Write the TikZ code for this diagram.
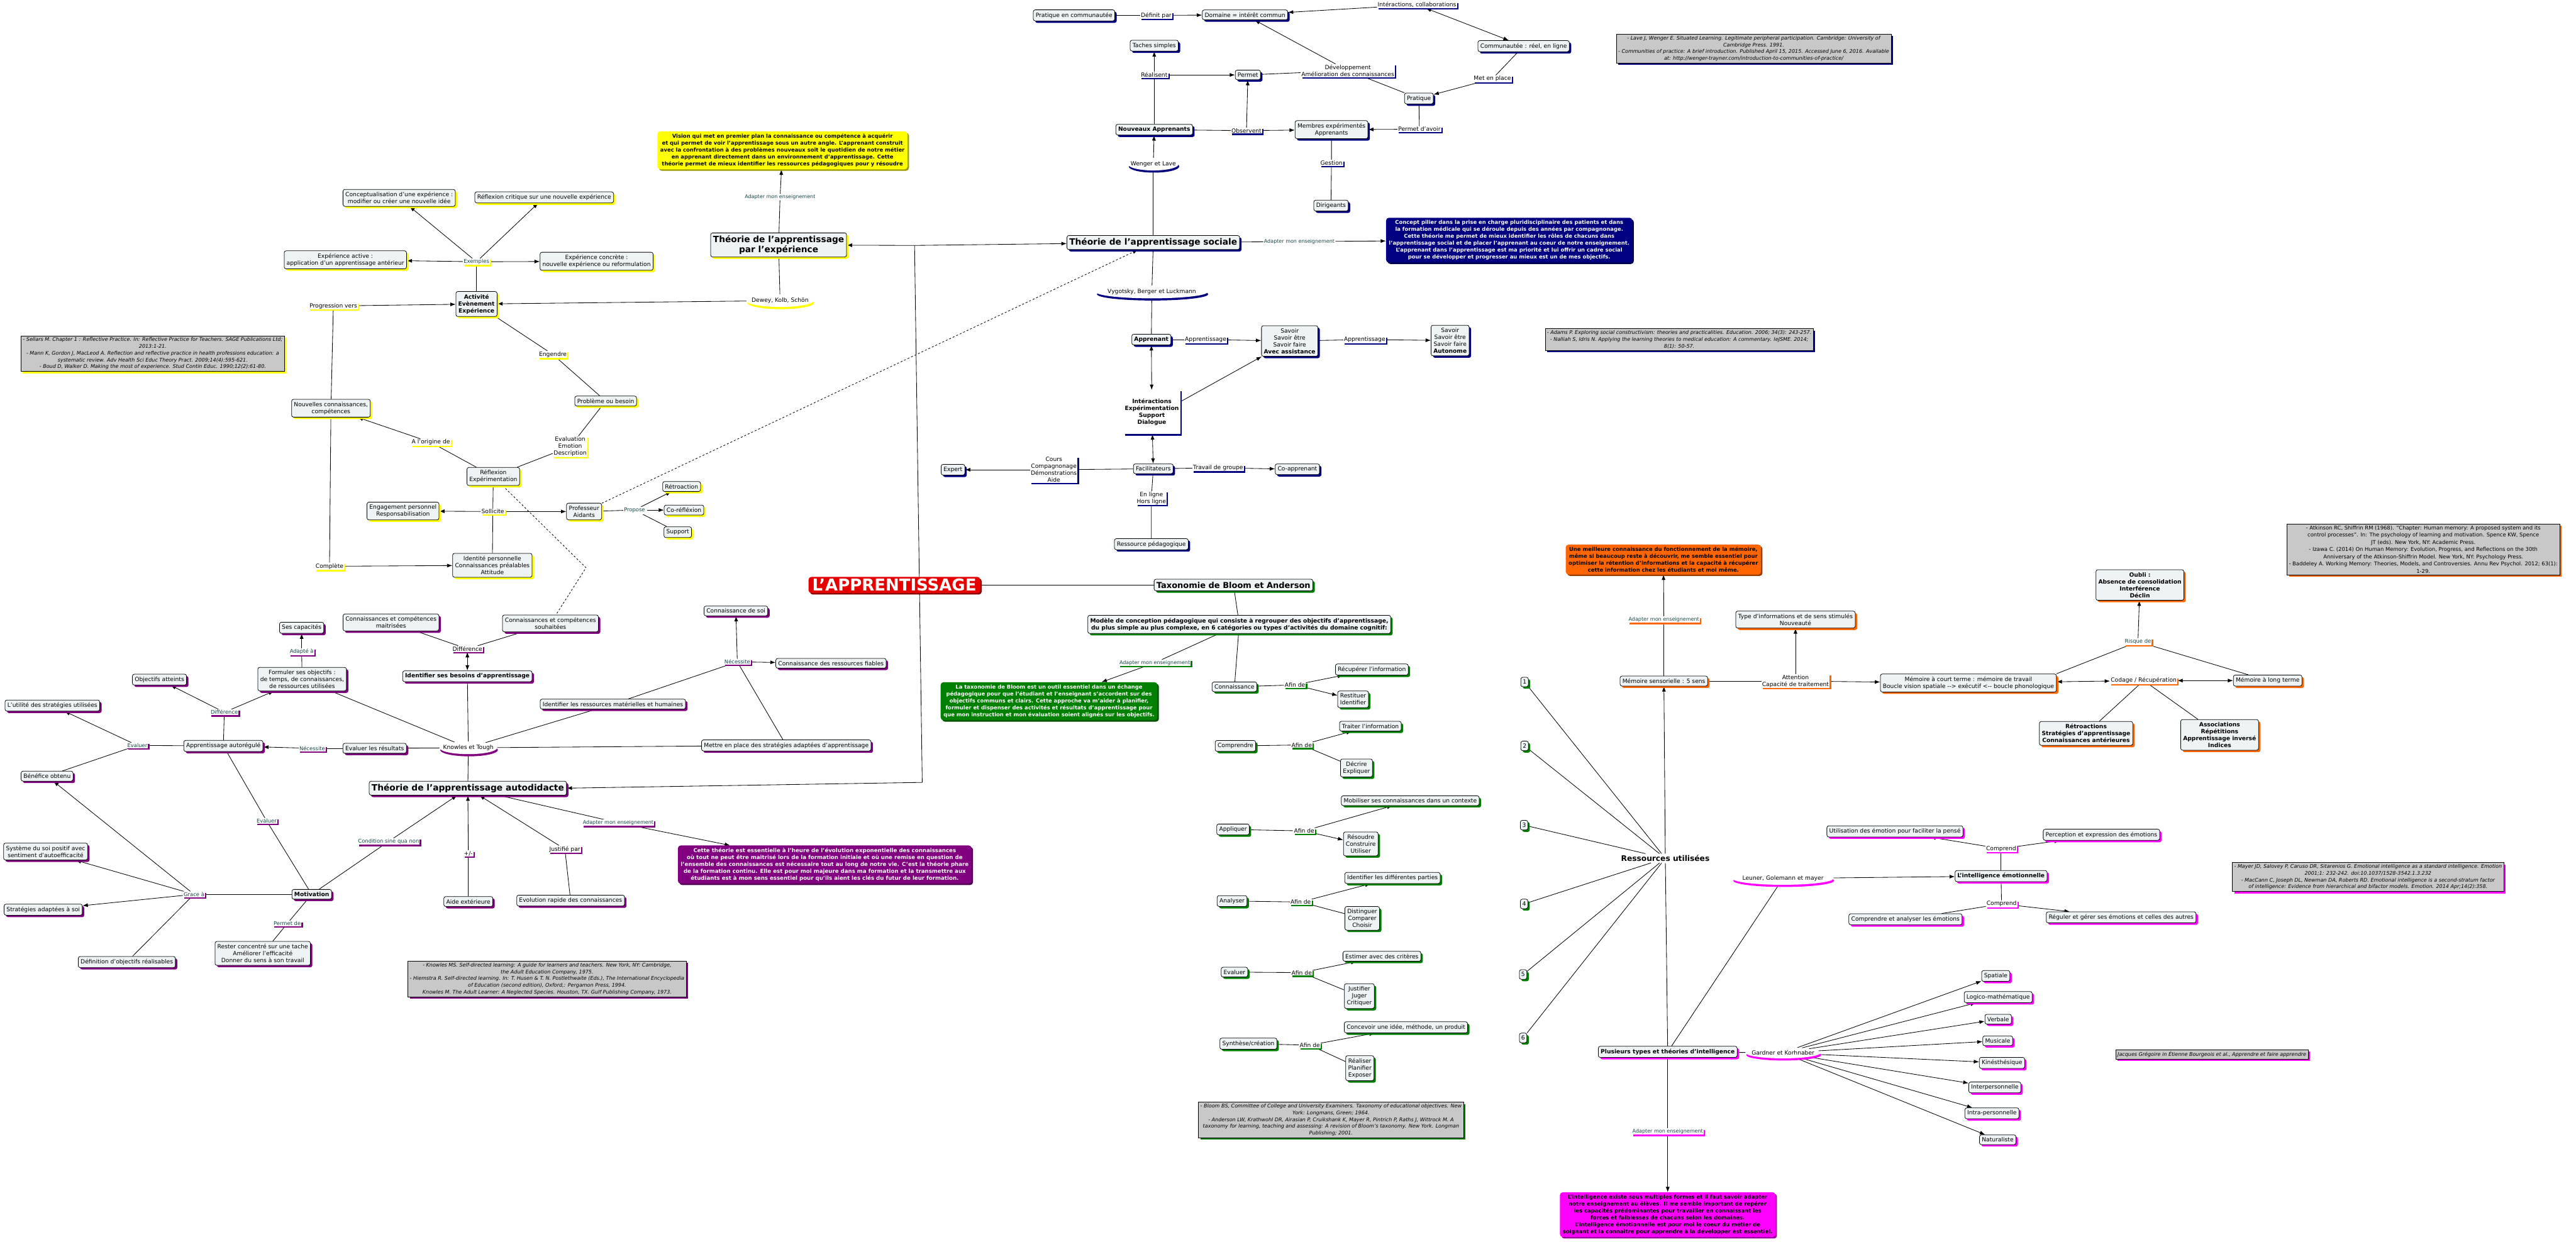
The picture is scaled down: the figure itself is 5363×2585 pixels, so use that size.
\documentclass[tikz,border=0pt]{standalone}
\usepackage{fontspec}
\setmainfont{DejaVu Sans}
\usetikzlibrary{shapes.geometric,arrows.meta,shadows,backgrounds}
\definecolor{navyc}{RGB}{0,0,128}
\definecolor{yelc}{RGB}{255,255,0}
\definecolor{purc}{RGB}{128,0,128}
\definecolor{grnc}{RGB}{0,128,0}
\definecolor{orgc}{RGB}{255,102,0}
\definecolor{magc}{RGB}{255,0,255}
\definecolor{nfill}{RGB}{238,243,246}
\definecolor{refg}{RGB}{200,200,200}
\definecolor{teal2}{RGB}{20,70,70}
\definecolor{redc}{RGB}{230,0,0}
\tikzset{
  concept/.style={draw=black, line width=1pt, rounded corners=4pt, fill=nfill,
     align=center, inner xsep=5pt, inner ysep=5.5pt, font=\fontsize{12}{14.5}\selectfont,
     drop shadow={shadow xshift=4pt, shadow yshift=-4pt, fill=#1, opacity=1}},
  linklab/.style={fill=white, align=center, inner xsep=1.5pt, inner ysep=1.5pt,
     font=\fontsize{12}{14.5}\selectfont,
     drop shadow={shadow xshift=3pt, shadow yshift=-3pt, fill=#1, opacity=1}},
  plainlab/.style={fill=white, align=center, inner sep=1.5pt, font=\fontsize{10.5}{13}\selectfont, text=teal2},
  arclab/.style={ellipse, fill=white, inner xsep=-10pt, inner ysep=3.5pt, font=\fontsize{12}{14.5}\selectfont,
     drop shadow={shadow xshift=1.5pt, shadow yshift=-4.5pt, fill=#1, opacity=1}},
  bigbox/.style={rounded corners=6pt, align=center, inner xsep=6pt, inner ysep=5pt,
     font=\bfseries\fontsize{11}{14.5}\selectfont, fill=#1,
     drop shadow={shadow xshift=3pt, shadow yshift=-3pt, fill=#1!60!black, opacity=1}},
  refbox/.style={draw=black, line width=0.8pt, fill=refg, align=center, inner sep=4pt,
     font=\itshape\fontsize{10.5}{14}\selectfont,
     drop shadow={shadow xshift=4pt, shadow yshift=-4pt, fill=#1, opacity=1}},
  tl/.style={text=teal2, font=\fontsize{11}{13}\selectfont},
  tladapt/.style={text=teal2, font=\fontsize{10.5}{13}\selectfont},
  bf/.style={font=\bfseries\fontsize{12}{14.5}\selectfont},
  ttl/.style={font=\bfseries\fontsize{18}{21}\selectfont},
  conn/.style={line width=1.1pt},
  arr/.style={line width=1.1pt, -{Latex[length=11pt,width=8pt]}},
  darr/.style={line width=1.1pt, {Latex[length=11pt,width=8pt]}-{Latex[length=11pt,width=8pt]}},
  dsh/.style={line width=1.1pt, dash pattern=on 4pt off 4pt},
}
\begin{document}
\begin{tikzpicture}[x=1pt,y=-1pt]
\useasboundingbox (0,0) rectangle (5363,2585);

% ================= SOCIAL =================
\node[concept=navyc] (pcomm) at (2236,32) {Pratique en communautée};
\node[linklab=navyc] (definit) at (2407,32) {Définit par};
\node[concept=navyc] (domaine) at (2592,31) {Domaine = intérêt commun};
\node[linklab=navyc] (interac) at (2950,10) {Intéractions, collaborations};
\node[concept=navyc] (communaute) at (3172,96) {Communautée : réel, en ligne};
\node[linklab=navyc] (metplace) at (3107,164) {Met en place};
\node[concept=navyc] (pratique) at (2954,205) {Pratique};
\node[linklab=navyc] (devel) at (2806,147) {Développement\\Amélioration des connaissances};
\node[concept=navyc] (permet) at (2598,156) {Permet};
\node[concept=navyc] (taches) at (2403,95) {Taches simples};
\node[linklab=navyc] (realisent) at (2403,156) {Réalisent};
\node[concept=navyc, bf] (nouveaux) at (2403,270) {Nouveaux Apprenants};
\node[linklab=navyc] (observent) at (2595,272) {Observent};
\node[concept=navyc] (membres) at (2772,270) {Membres expérimentés\\Apprenants};
\node[linklab=navyc] (permetavoir) at (2955,269) {Permet d'avoir};
\node[linklab=navyc] (gestion) at (2772,339) {Gestion};
\node[concept=navyc] (dirigeants) at (2771,428) {Dirigeants};
\node[arclab=navyc] (wenger) at (2401,342) {Wenger et Lave};
\node[concept=navyc, ttl] (tsociale) at (2401,505) {Théorie de l'apprentissage sociale};
\node[plainlab] (adsoc) at (2705,503) {Adapter mon enseignement};
\node[bigbox=navyc, text=white] (bluebox) at (3142,500) {Concept pilier dans la prise en charge pluridisciplinaire des patients et dans\\la formation médicale qui se déroule depuis des années par compagnonage.\\Cette théorie me permet de mieux identifier les rôles de chacuns dans\\l'apprentissage social et de placer l'apprenant au coeur de notre enseignement.\\L'apprenant dans l'apprentissage est ma priorité et lui offrir un cadre social\\pour se développer et progresser au mieux est un de mes objectifs.};
\node[refbox=navyc] (laveref) at (3651,101) {- Lave J, Wenger E. Situated Learning. Legitimate peripheral participation. Cambridge: University of\\Cambridge Press. 1991.\\- Communities of practice: A brief introduction. Published April 15, 2015. Accessed June 6, 2016. Available\\at: http://wenger-trayner.com/introduction-to-communities-of-practice/};
\node[arclab=navyc] (vygotsky) at (2398,608) {Vygotsky, Berger et Luckmann};
\node[concept=navyc, bf] (apprenant) at (2397,707) {Apprenant};
\node[linklab=navyc] (appr1) at (2510,707) {Apprentissage};
\node[concept=navyc] (savoir1) at (2685,710) {Savoir\\Savoir être\\Savoir faire\\\textbf{Avec assistance}};
\node[linklab=navyc] (appr2) at (2841,707) {Apprentissage};
\node[concept=navyc] (savoir2) at (3019,709) {Savoir\\Savoir être\\Savoir faire\\\textbf{Autonome}};
\node[refbox=navyc] (adamsref) at (3496,707) {- Adams P. Exploring social constructivism: theories and practicalities. Education. 2006; 34(3): 243-257.\\- Nalliah S, Idris N. Applying the learning theories to medical education: A commentary. IeJSME. 2014;\\8(1): 50-57.};
\node[linklab=navyc, bf, minimum width=118pt, minimum height=92pt] (interactions) at (2398,858) {Intéractions\\Expérimentation\\Support\\Dialogue};
\node[concept=navyc] (facilit) at (2401,976) {Facilitateurs};
\node[linklab=navyc] (travail) at (2536,974) {Travail de groupe};
\node[concept=navyc] (coappr) at (2701,977) {Co-apprenant};
\node[linklab=navyc] (cours) at (2194,978) {Cours\\Compagnonage\\Démonstrations\\Aide};
\node[concept=navyc] (expert) at (1984,978) {Expert};
\node[linklab=navyc] (enligne) at (2397,1037) {En ligne\\Hors ligne};
\node[concept=navyc] (ressped) at (2397,1133) {Ressource pédagogique};

% ================= EXPERIENCE =================
\node[bigbox=yelc, text=black] (yellowbox) at (1629,313) {Vision qui met en premier plan la connaissance ou compétence à acquérir\\et qui permet de voir l'apprentissage sous un autre angle. L'apprenant construit\\avec la confrontation à des problèmes nouveaux soit le quotidien de notre métier\\en apprenant directement dans un environnement d'apprentissage. Cette\\théorie permet de mieux identifier les ressources pédagogiques pour y résoudre};
\node[concept=yelc, ttl] (texp) at (1621,510) {Théorie de l'apprentissage\\par l'expérience};
\node[plainlab] (adexp) at (1624,410) {Adapter mon enseignement};
\node[concept=yelc] (concep) at (831,412) {Conceptualisation d'une expérience :\\modifier ou créer une nouvelle idée};
\node[concept=yelc] (reflcrit) at (1133,411) {Réflexion critique sur une nouvelle expérience};
\node[concept=yelc] (expactive) at (719,541) {Expérience active :\\application d'un apprentissage antérieur};
\node[linklab=yelc, tl] (exemples) at (992,545) {Exemples};
\node[concept=yelc] (expconc) at (1242,544) {Expérience concrète :\\nouvelle expérience ou reformulation};
\node[concept=yelc, bf] (activite) at (992,633) {Activité\\Evènement\\Expérience};
\node[linklab=yelc] (progression) at (694,637) {Progression vers};
\node[arclab=yelc] (dewey) at (1624,626) {Dewey, Kolb, Schön};
\node[refbox=yelc] (sellarsref) at (318,736) {- Sellars M. Chapter 1 : Reflective Practice. In: Reflective Practice for Teachers. SAGE Publications Ltd;\\2013:1-21.\\- Mann K, Gordon J, MacLeod A. Reflection and reflective practice in health professions education: a\\systematic review. Adv Health Sci Educ Theory Pract. 2009;14(4):595-621.\\- Boud D, Walker D. Making the most of experience. Stud Contin Educ. 1990;12(2):61-80.};
\node[concept=yelc] (nouvelles) at (689,850) {Nouvelles connaissances,\\compétences};
\node[linklab=yelc] (engendre) at (1151,738) {Engendre};
\node[concept=yelc] (probleme) at (1261,835) {Problème ou besoin};
\node[linklab=yelc] (evaluation) at (1187,930) {Evaluation\\Emotion\\Description};
\node[linklab=yelc] (origine) at (897,921) {A l'origine de};
\node[concept=yelc] (reflexion) at (1027,992) {Réflexion\\Expérimentation};
\node[linklab=yelc] (sollicite) at (1026,1065) {Sollicite};
\node[concept=yelc] (engagement) at (839,1064) {Engagement personnel\\Responsabilisation};
\node[concept=yelc] (professeur) at (1216,1065) {Professeur\\Aidants};
\node[linklab=white, tl] (propose) at (1321,1062) {Propose};
\node[concept=yelc] (retro) at (1419,1013) {Rétroaction};
\node[concept=yelc] (coreflex) at (1424,1062) {Co-réfléxion};
\node[concept=yelc] (support) at (1411,1108) {Support};
\node[linklab=yelc] (complete) at (686,1179) {Complète};
\node[concept=yelc] (identite) at (1025,1177) {Identité personnelle\\Connaissances préalables\\Attitude};

% ================= AUTODIDACTE =================
\node[concept=purc] (capacites) at (628,1307) {Ses capacités};
\node[concept=purc] (maitrisees) at (814,1296) {Connaissances et compétences\\maitrisées};
\node[concept=purc] (souhaitees) at (1146,1298) {Connaissances et compétences\\souhaitées};
\node[linklab=purc, tl] (adapte) at (628,1357) {Adapté à};
\node[linklab=purc] (diff1) at (973,1351) {Différence};
\node[concept=purc] (formuler) at (629,1414) {Formuler ses objectifs :\\de temps, de connaissances,\\de ressources utilisées};
\node[concept=purc, bf] (besoins) at (973,1408) {Identifier ses besoins d'apprentissage};
\node[concept=purc] (objatteints) at (332,1415) {Objectifs atteints};
\node[concept=purc] (utilite) at (109,1469) {L'utilité des stratégies utilisées};
\node[linklab=purc, tl] (diff2) at (467,1483) {Différence};
\node[linklab=purc, tl] (evaluer1) at (286,1552) {Evaluer};
\node[concept=purc] (autoreg) at (465,1553) {Apprentissage autorégulé};
\node[linklab=purc, tl] (necess1) at (650,1558) {Nécessite};
\node[concept=purc] (evalres) at (780,1558) {Evaluer les résultats};
\node[arclab=purc] (knowles) at (975,1557) {Knowles et Tough};
\node[concept=purc, ttl] (tauto) at (974,1641) {Théorie de l'apprentissage autodidacte};
\node[concept=purc] (benefice) at (98,1616) {Bénéfice obtenu};
\node[linklab=purc, tl] (evaluer2) at (555,1709) {Evaluer};
\node[linklab=purc, tl] (condition) at (809,1752) {Condition sine qua non};
\node[linklab=purc] (plusminus) at (975,1777) {+/-};
\node[concept=purc] (systeme) at (95,1773) {Système du soi positif avec\\sentiment d'autoefficacité};
\node[linklab=purc, tl] (grace) at (404,1862) {Grace à};
\node[concept=purc, bf] (motivation) at (649,1862) {Motivation};
\node[concept=purc] (aide) at (975,1877) {Aide extérieure};
\node[concept=purc] (strategies) at (90,1894) {Stratégies adaptées à soi};
\node[linklab=purc, tl] (permetde) at (598,1923) {Permet de};
\node[concept=purc] (rester) at (547,1985) {Rester concentré sur une tache\\Améliorer l'efficacité\\Donner du sens à son travail};
\node[concept=purc] (definition) at (264,2003) {Définition d'objectifs réalisables};
\node[refbox=purc] (knowlesref) at (1139,2038) {- Knowles MS. Self-directed learning: A guide for learners and teachers. New York, NY: Cambridge,\\the Adult Education Company, 1975.\\- Hiemstra R. Self-directed learning. In: T. Husen \& T. N. Postlethwaite (Eds.), The International Encyclopedia\\of Education (second edition), Oxford,: Pergamon Press, 1994.\\Knowles M. The Adult Learner: A Neglected Species. Houston, TX. Gulf Publishing Company, 1973.};
\node[concept=purc] (ressfiables) at (1730,1381) {Connaissance des ressources fiables};
\node[linklab=purc, tl] (necess2) at (1535,1378) {Nécessite};
\node[concept=purc] (connsoi) at (1532,1272) {Connaissance de soi};
\node[concept=purc] (identres) at (1276,1466) {Identifier les ressources matérielles et humaines};
\node[concept=purc] (mettre) at (1637,1552) {Mettre en place des stratégies adaptées d'apprentissage};
\node[linklab=purc, tladapt] (adauto) at (1287,1713) {Adapter mon enseignement};
\node[linklab=purc] (justifie) at (1176,1768) {Justifié par};
\node[concept=purc] (evolution) at (1188,1875) {Evolution rapide des connaissances};
\node[bigbox=purc, text=white, font=\bfseries\fontsize{11.3}{14.5}\selectfont] (purplebox) at (1717,1800) {Cette théorie est essentielle à l'heure de l'évolution exponentielle des connaissances\\où tout ne peut être maitrisé lors de la formation initiale et où une remise en question de\\l'ensemble des connaissances est nécessaire tout au long de notre vie. C'est la théorie phare\\de la formation continu. Elle est pour moi majeure dans ma formation et la transmettre aux\\étudiants est à mon sens essentiel pour qu'ils aient les clés du futur de leur formation.};

% ================= CENTRAL =================
\node[fill=redc, text=white, rounded corners=6pt, font=\bfseries\fontsize{34}{38}\selectfont, inner xsep=8pt, inner ysep=4pt, drop shadow={shadow xshift=3pt, shadow yshift=-3pt, fill=redc!60!black, opacity=1}] (apprent) at (1862,1218) {L'APPRENTISSAGE};
\node[concept=grnc, font=\bfseries\fontsize{17}{20}\selectfont] (taxo) at (2568,1218) {Taxonomie de Bloom et Anderson};
\coordinate (J1) at (1904,511);
\coordinate (corner) at (1920,1629);

% ================= BLOOM =================
\node[concept=grnc, bf] (modele) at (2580,1300) {Modèle de conception pédagogique qui consiste à regrouper des objectifs d'apprentissage,\\du plus simple au plus complexe, en 6 catégories ou types d'activités du domaine cognitif:};
\node[linklab=grnc, tladapt] (adbloom) at (2404,1380) {Adapter mon enseignement};
\node[bigbox=grnc, text=white] (greenbox) at (2184,1460) {La taxonomie de Bloom est un outil essentiel dans un échange\\pédagogique pour que l'étudiant et l'enseignant s'accordent sur des\\objectifs communs et clairs. Cette approche va m'aider à planifier,\\formuler et dispenser des activités et résultats d'apprentissage pour\\que mon instruction et mon évaluation soient alignés sur les objectifs.};
\node[concept=grnc] (connaissance) at (2570,1430) {Connaissance};
\node[linklab=grnc] (afin1) at (2696,1426) {Afin de};
\node[concept=grnc] (recuperer) at (2856,1394) {Récupérer l'information};
\node[concept=grnc] (restituer) at (2817,1456) {Restituer\\Identifier};
\node[concept=grnc] (comprendreb) at (2572,1553) {Comprendre};
\node[linklab=grnc] (afin2) at (2710,1551) {Afin de};
\node[concept=grnc] (traiter) at (2853,1512) {Traiter l'information};
\node[concept=grnc] (decrire) at (2824,1599) {Décrire\\Expliquer};
\node[concept=grnc] (appliquer) at (2567,1727) {Appliquer};
\node[linklab=grnc] (afin3) at (2715,1730) {Afin de};
\node[concept=grnc] (mobiliser) at (2936,1667) {Mobiliser ses connaissances dans un contexte};
\node[concept=grnc] (resoudre) at (2833,1757) {Résoudre\\Construire\\Utiliser};
\node[concept=grnc] (analyser) at (2565,1876) {Analyser};
\node[linklab=grnc] (afin4) at (2708,1878) {Afin de};
\node[concept=grnc] (identparties) at (2899,1828) {Identifier les différentes parties};
\node[concept=grnc] (distinguer) at (2836,1912) {Distinguer\\Comparer\\Choisir};
\node[concept=grnc] (evaluerb) at (2570,2024) {Evaluer};
\node[linklab=grnc] (afin5) at (2710,2025) {Afin de};
\node[concept=grnc] (estimer) at (2877,1991) {Estimer avec des critères};
\node[concept=grnc] (justifier) at (2830,2074) {Justifier\\Juger\\Critiquer};
\node[concept=grnc] (synthese) at (2599,2173) {Synthèse/création};
\node[linklab=grnc] (afin6) at (2727,2176) {Afin de};
\node[concept=grnc] (concevoir) at (2927,2139) {Concevoir une idée, méthode, un produit};
\node[concept=grnc] (realiser) at (2831,2224) {Réaliser\\Planifier\\Exposer};
\node[refbox=grnc] (bloomref) at (2771,2332) {- Bloom BS, Committee of College and University Examiners. Taxonomy of educational objectives. New\\York: Longmans, Green; 1964.\\- Anderson LW, Krathwohl DR, Airasian P, Cruikshank K, Mayer R, Pintrich P, Raths J, Wittrock M. A\\taxonomy for learning, teaching and assessing: A revision of Bloom's taxonomy. New York. Longman\\Publishing; 2001.};

% ================= MEMORY =================
\node[bigbox=orgc, text=black] (orangebox) at (3463,1165) {Une meilleure connaissance du fonctionnement de la mémoire,\\même si beaucoup reste à découvrir, me semble essentiel pour\\optimiser la rétention d'informations et la capacité à récupérer\\cette information chez les étudiants et moi même.};
\node[linklab=orgc, tladapt] (admem) at (3464,1290) {Adapter mon enseignement};
\node[concept=orgc] (typeinfo) at (3738,1290) {Type d'informations et de sens stimulés\\Nouveauté};
\node[concept=orgc] (memsens) at (3464,1418) {Mémoire sensorielle : 5 sens};
\node[linklab=orgc] (attention) at (3738,1418) {Attention\\Capacité de traitement};
\node[concept=orgc] (memct) at (4098,1422) {Mémoire à court terme : mémoire de travail\\Boucle vision spatiale -{}-> exécutif <-{}- boucle phonologique};
\node[concept=orgc, bf] (oubli) at (4455,1218) {Oubli :\\Absence de consolidation\\Interférence\\Déclin};
\node[linklab=orgc, tl] (risque) at (4451,1336) {Risque de};
\node[linklab=orgc] (codage) at (4463,1417) {Codage / Récupération};
\node[concept=orgc] (memlt) at (4721,1417) {Mémoire à long terme};
\node[concept=orgc, bf] (retroactions) at (4343,1527) {Rétroactions\\Stratégies d'apprentissage\\Connaissances antérieures};
\node[concept=orgc, bf] (associations) at (4621,1530) {Associations\\Répétitions\\Apprentissage inversé\\Indices};
\node[refbox=orgc, font=\fontsize{11}{15}\selectfont] (atkref) at (5045,1144) {- Atkinson RC, Shiffrin RM (1968). ``Chapter: Human memory: A proposed system and its\\control processes''. In: The psychology of learning and motivation. Spence KW, Spence\\JT (eds). New York, NY: Academic Press.\\- Izawa C. (2014) On Human Memory: Evolution, Progress, and Reflections on the 30th\\Anniversary of the Atkinson-Shiffrin Model. New York, NY: Psychology Press.\\- Baddeley A. Working Memory: Theories, Models, and Controversies. Annu Rev Psychol. 2012; 63(1):\\1-29.};

% ================= NUMBERS / RESSOURCES =================
\node[concept=grnc, inner xsep=4pt] (n1) at (3174,1420) {1};
\node[concept=grnc, inner xsep=4pt] (n2) at (3174,1553) {2};
\node[concept=grnc, inner xsep=4pt] (n3) at (3173,1718) {3};
\node[concept=grnc, inner xsep=4pt] (n4) at (3173,1882) {4};
\node[concept=grnc, inner xsep=4pt] (n5) at (3171,2029) {5};
\node[concept=grnc, inner xsep=4pt] (n6) at (3171,2161) {6};
\node[font=\bfseries\fontsize{16}{19}\selectfont, inner sep=3pt] (ressources) at (3467,1787) {Ressources utilisées};

% ================= INTELLIGENCE =================
\node[concept=magc] (utilisation) at (3945,1731) {Utilisation des émotion pour faciliter la pensé};
\node[linklab=magc] (comprend1) at (4166,1767) {Comprend};
\node[concept=magc] (perception) at (4375,1738) {Perception et expression des émotions};
\node[arclab=magc] (leuner) at (3712,1829) {Leuner, Golemann et mayer};
\node[concept=magc, bf] (intemo) at (4166,1824) {L'intelligence émotionnelle};
\node[linklab=magc] (comprend2) at (4167,1882) {Comprend};
\node[concept=magc] (comprendre) at (3967,1914) {Comprendre et analyser les émotions};
\node[concept=magc] (reguler) at (4416,1910) {Réguler et gérer ses émotions et celles des autres};
\node[refbox=magc] (mayerref) at (4930,1826) {- Mayer JD, Salovey P, Caruso DR, Sitarenios G. Emotional intelligence as a standard intelligence. Emotion\\2001;1: 232-242. doi:10.1037/1528-3542.1.3.232\\- MacCann C, Joseph DL, Newman DA, Roberts RD. Emotional intelligence is a second-stratum factor\\of intelligence: Evidence from hierarchical and bifactor models. Emotion. 2014 Apr;14(2):358.};
\node[concept=magc] (spatiale) at (4155,2032) {Spatiale};
\node[concept=magc] (logico) at (4160,2076) {Logico-mathématique};
\node[concept=magc] (verbale) at (4160,2122) {Verbale};
\node[concept=magc] (musicale) at (4159,2167) {Musicale};
\node[concept=magc] (kines) at (4168,2213) {Kinésthésique};
\node[concept=magc] (interp) at (4153,2264) {Interpersonnelle};
\node[concept=magc] (intrap) at (4147,2318) {Intra-personnelle};
\node[concept=magc] (natur) at (4159,2373) {Naturaliste};
\node[arclab=magc] (gardner) at (3712,2192) {Gardner et Korhnaber};
\node[concept=magc, bf] (plusieurs) at (3472,2190) {Plusieurs types et théories d'intelligence};
\node[refbox=magc] (gregref) at (4605,2195) {Jacques Grégoire in Étienne Bourgeois et al., Apprendre et faire apprendre};
\node[linklab=magc, tladapt] (adint) at (3472,2356) {Adapter mon enseignement};
\node[bigbox=magc, text=black] (pinkbox) at (3472,2529) {L'intelligence existe sous multiples formes et il faut savoir adapter\\notre enseignement au élèves. Il me semble important de repérer\\les capacités prédominantes pour travailler en connaissant les\\forces et faiblesses de chacuns selon les domaines.\\L'intelligence émotionnelle est pour moi le coeur du métier de\\soignant et la connaitre pour apprendre à la développer est essentiel.};

% ================= EDGES =================
\begin{scope}[on background layer]
\fill[white] (0,0) rectangle (5363,2585);
% social
\draw[conn] (pcomm) -- (definit);
\draw[arr] (definit) -- (domaine);
\draw[arr] (interac) -- (domaine);
\draw[darr] (interac) -- (communaute);
\draw[conn] (communaute) -- (metplace);
\draw[arr] (metplace) -- (pratique);
\draw[conn] (pratique) -- (devel);
\draw[arr] (devel) -- (domaine);
\draw[conn] (permet) -- (devel);
\draw[conn] (pratique) -- (permetavoir);
\draw[arr] (permetavoir) -- (membres);
\draw[conn] (membres) -- (gestion) -- (dirigeants);
\draw[conn] (nouveaux) -- (realisent);
\draw[arr] (realisent) -- (taches);
\draw[arr] (realisent) -- (permet);
\draw[conn] (nouveaux) -- (observent);
\draw[arr] (observent) -- (membres);
\draw[arr] (observent) -- (permet);
\draw[conn] (tsociale) -- (wenger);
\draw[arr] (wenger) -- (nouveaux);
\draw[conn] (tsociale) -- (adsoc);
\draw[arr] (adsoc) -- (bluebox);
\draw[conn] (tsociale) -- (vygotsky) -- (apprenant);
\draw[conn] (apprenant) -- (appr1);
\draw[arr] (appr1) -- (savoir1);
\draw[conn] (savoir1) -- (appr2);
\draw[arr] (appr2) -- (savoir2);
\draw[darr] (apprenant) -- (interactions);
\draw[arr] (interactions.20) -- (savoir1);
\draw[darr] (interactions) -- (facilit);
\draw[conn] (facilit) -- (travail);
\draw[arr] (travail) -- (coappr);
\draw[conn] (facilit) -- (cours);
\draw[arr] (cours) -- (expert);
\draw[conn] (facilit) -- (enligne) -- (ressped);
% central
\draw[arr] (J1) -- (texp);
\draw[arr] (J1) -- (tsociale);
\draw[conn] (J1) -- (corner);
\draw[arr] (corner) -- (tauto.east);
\draw[conn] (apprent) -- (taxo);
\draw[conn] (taxo) -- (modele);
% experience
\draw[conn] (texp) -- (adexp);
\draw[arr] (adexp) -- (yellowbox);
\draw[conn] (texp) -- (dewey);
\draw[arr] (dewey) -- (activite);
\draw[conn] (activite) -- (exemples);
\draw[arr] (exemples) -- (expactive);
\draw[arr] (exemples) -- (expconc);
\draw[arr] (exemples) -- (concep);
\draw[arr] (exemples) -- (reflcrit);
\draw[arr] (progression) -- (activite);
\draw[conn] (nouvelles) -- (progression);
\draw[conn] (activite) -- (engendre) -- (probleme);
\draw[conn] (probleme) -- (evaluation) -- (reflexion);
\draw[conn] (reflexion) -- (origine);
\draw[arr] (origine) -- (nouvelles);
\draw[conn] (reflexion) -- (sollicite);
\draw[arr] (sollicite) -- (engagement);
\draw[arr] (sollicite) -- (professeur);
\draw[conn] (sollicite) -- (identite);
\draw[conn] (nouvelles) -- (complete);
\draw[arr] (complete) -- (identite);
\draw[conn] (professeur) -- (propose);
\draw[arr] (propose) -- (retro);
\draw[arr] (propose) -- (coreflex);
\draw[conn] (propose) -- (support);
\draw[dsh, -{Latex[length=11pt,width=8pt]}] (professeur) -- (tsociale);
\draw[dsh] (reflexion) -- (1220,1182) -- (souhaitees);
% autodidacte
\draw[conn] (tauto) -- (knowles);
\draw[conn] (knowles) -- (besoins);
\draw[darr] (besoins) -- (diff1);
\draw[conn] (diff1) -- (souhaitees);
\draw[conn] (diff1) -- (maitrisees);
\draw[conn] (knowles) -- (evalres);
\draw[conn] (evalres) -- (necess1);
\draw[arr] (necess1) -- (autoreg);
\draw[conn] (knowles) -- (formuler);
\draw[conn] (knowles) -- (identres);
\draw[conn] (knowles) -- (mettre);
\draw[conn] (identres) -- (necess2);
\draw[conn] (mettre) -- (necess2);
\draw[arr] (necess2) -- (ressfiables);
\draw[arr] (necess2) -- (connsoi);
\draw[conn] (formuler) -- (adapte);
\draw[arr] (adapte) -- (capacites);
\draw[conn] (autoreg) -- (diff2);
\draw[arr] (diff2) -- (formuler);
\draw[arr] (diff2) -- (objatteints);
\draw[conn] (autoreg) -- (evaluer1);
\draw[arr] (evaluer1) -- (utilite);
\draw[conn] (evaluer1) -- (benefice);
\draw[conn] (autoreg) -- (evaluer2) -- (motivation);
\draw[conn] (motivation) -- (grace);
\draw[arr] (grace) -- (benefice);
\draw[arr] (grace) -- (systeme);
\draw[arr] (grace) -- (strategies);
\draw[conn] (grace) -- (definition);
\draw[conn] (motivation) -- (permetde) -- (rester);
\draw[conn] (motivation) -- (condition);
\draw[arr] (condition) -- (tauto);
\draw[conn] (aide) -- (plusminus);
\draw[arr] (plusminus) -- (tauto);
\draw[conn] (evolution) -- (justifie);
\draw[arr] (justifie) -- (tauto);
\draw[conn] (tauto) -- (adauto);
\draw[arr] (adauto) -- (purplebox);
% bloom
\draw[conn] (modele) -- (connaissance);
\draw[conn] (modele) -- (adbloom);
\draw[arr] (adbloom) -- (greenbox);
\draw[conn] (connaissance) -- (afin1);
\draw[arr] (afin1) -- (recuperer);
\draw[arr] (afin1) -- (restituer);
\draw[conn] (comprendreb) -- (afin2);
\draw[arr] (afin2) -- (traiter);
\draw[conn] (afin2) -- (decrire);
\draw[conn] (appliquer) -- (afin3);
\draw[arr] (afin3) -- (mobiliser);
\draw[arr] (afin3) -- (resoudre);
\draw[conn] (analyser) -- (afin4);
\draw[arr] (afin4) -- (identparties);
\draw[conn] (afin4) -- (distinguer);
\draw[conn] (evaluerb) -- (afin5);
\draw[arr] (afin5) -- (estimer);
\draw[conn] (afin5) -- (justifier);
\draw[conn] (synthese) -- (afin6);
\draw[arr] (afin6) -- (concevoir);
\draw[conn] (afin6) -- (realiser);
% memory
\draw[arr] (ressources) -- (memsens);
\draw[conn] (memsens) -- (admem);
\draw[arr] (admem) -- (orangebox);
\draw[conn] (memsens) -- (attention);
\draw[arr] (attention) -- (typeinfo);
\draw[arr] (attention) -- (memct);
\draw[darr] (memct) -- (codage);
\draw[darr] (codage) -- (memlt);
\draw[conn] (memct.north east) -- (risque);
\draw[conn] (risque) -- (memlt);
\draw[arr] (risque) -- (oubli);
\draw[conn] (codage) -- (retroactions);
\draw[conn] (codage) -- (associations);
\foreach \n in {n1,n2,n3,n4,n5,n6} \draw[conn] (\n) -- (ressources);
% intelligence
\draw[conn] (ressources) -- (plusieurs);
\draw[conn] (plusieurs) -- (leuner);
\draw[arr] (leuner) -- (intemo);
\draw[conn] (intemo) -- (comprend1);
\draw[arr] (comprend1) -- (utilisation);
\draw[arr] (comprend1) -- (perception);
\draw[conn] (intemo) -- (comprend2);
\draw[conn] (comprend2) -- (comprendre);
\draw[arr] (comprend2) -- (reguler);
\draw[conn] (plusieurs) -- (gardner);
\foreach \t in {spatiale,logico,verbale,musicale,kines,interp,intrap,natur} \draw[arr] (gardner) -- (\t);
\draw[conn] (plusieurs) -- (adint);
\draw[arr] (adint) -- (pinkbox);
\end{scope}
\end{tikzpicture}
\end{document}
